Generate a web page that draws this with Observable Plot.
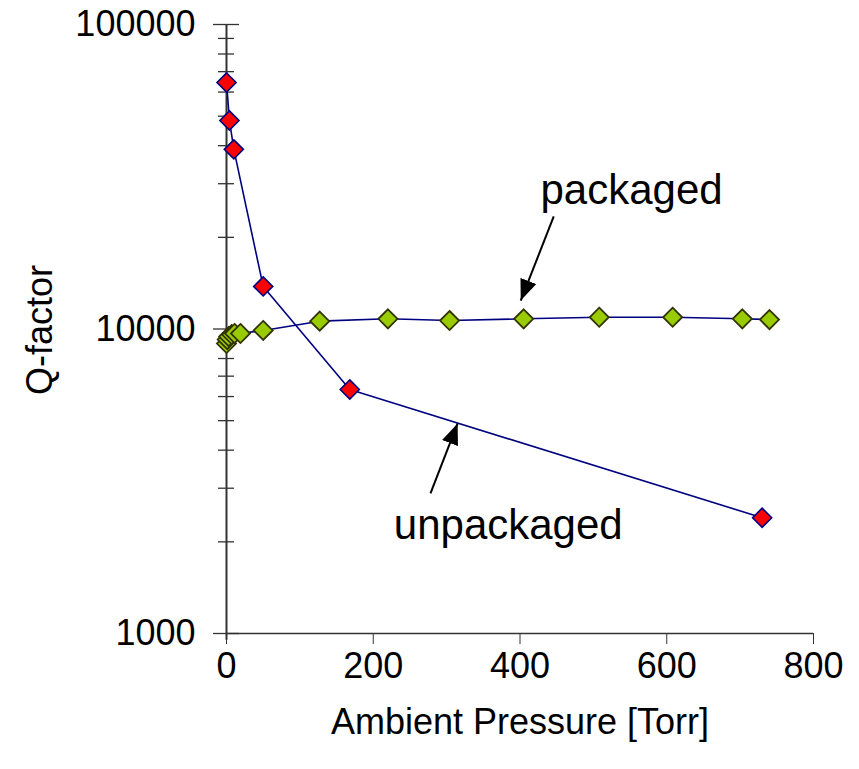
<!DOCTYPE html>
<html>
<head>
<meta charset="utf-8">
<script src="https://cdn.jsdelivr.net/npm/d3@7"></script>
<script src="https://cdn.jsdelivr.net/npm/@observablehq/plot@0.6"></script>
<style>
  html, body { margin: 0; padding: 0; background: #fff; }
  #chart svg { display: block; }
</style>
</head>
<body>
<div id="chart"></div>
<script>
// ---- data ----
const unpackagedPressure = [0.1, 4, 10, 50, 168, 730];
const unpackagedQ        = [64500, 48400, 38900, 13800, 6330, 2400];

const packagedPressure = [0, 1, 3, 7, 11, 19, 50, 127, 220, 304, 405, 508, 608, 703, 740];
const packagedQ        = [8960, 9230, 9440, 9590, 9665, 9665, 9890, 10610, 10800, 10660, 10800, 10930, 10930, 10800, 10740];

const xTicks = [0, 200, 400, 600, 800];
const yMajorTicks = [1000, 10000, 100000];
const yMinorTicks = [2000, 3000, 4000, 5000, 6000, 7000, 8000, 9000,
                     20000, 30000, 40000, 50000, 60000, 70000, 80000, 90000];

const annotationLabels = ["packaged", "unpackaged"];
const annotationTextX  = [552, 384];
const annotationTextY  = [28500, 2263];
const arrowFromX = [446, 278];
const arrowFromY = [23420, 2883];
const arrowToX   = [401, 315];
const arrowToY   = [12400, 4895];

// ---- build tables ----
const unpackaged = unpackagedPressure.map((p, i) => ({p, q: unpackagedQ[i]}));
const packaged = packagedPressure.map((p, i) => ({p, q: packagedQ[i]}));
const annTexts = annotationLabels.map((t, i) => ({t, x: annotationTextX[i], y: annotationTextY[i]}));
const arrows = annotationLabels.map((t, i) => ({x1: arrowFromX[i], y1: arrowFromY[i], x2: arrowToX[i], y2: arrowToY[i]}));

const FONT = "'Liberation Sans', Arial, Helvetica, sans-serif";
const pxPerTorr = (813 - 226) / 800;

const chart = Plot.plot({
  width: 859,
  height: 769,
  marginLeft: 226,
  marginRight: 46,
  marginTop: 24,
  marginBottom: 136,
  style: {fontFamily: FONT, background: "#fff", color: "#000"},
  x: {domain: [0, 800], axis: null},
  y: {type: "log", domain: [1000, 100000], axis: null},
  marks: [
    // y axis tick labels
    Plot.axisY(yMajorTicks, {tickSize: 0, tickPadding: 31, fontSize: 36, tickFormat: d => String(d), label: null}),
    // x axis
    Plot.axisX(xTicks, {tickSize: 11, tickPadding: 8, fontSize: 36, stroke: "#333", label: null, tickFormat: d => String(d)}),
    Plot.ruleY([1000], {x1: 0, x2: 800, stroke: "#333", strokeWidth: 1.5}),
    // y axis line and crossing ticks
    Plot.ruleX([0], {y1: 950, y2: 100000, stroke: "#333", strokeWidth: 2}),
    Plot.ruleY(yMinorTicks, {x1: -8 / pxPerTorr, x2: 8 / pxPerTorr, stroke: "#333", strokeWidth: 1.3}),
    Plot.ruleY(yMajorTicks, {x1: -13 / pxPerTorr, x2: 13 / pxPerTorr, stroke: "#333", strokeWidth: 1.3}),
    // series lines
    Plot.line(packaged, {x: "p", y: "q", stroke: "#000080", strokeWidth: 1.6}),
    Plot.line(unpackaged, {x: "p", y: "q", stroke: "#000080", strokeWidth: 1.6}),
    // markers
    Plot.dot(packaged, {x: "p", y: "q", symbol: "diamond2", r: 8.6, fill: "#99CC00", stroke: "#333300", strokeWidth: 1.8}),
    Plot.dot(unpackaged, {x: "p", y: "q", symbol: "diamond2", r: 8.6, fill: "#FF0000", stroke: "#000080", strokeWidth: 1.6}),
    // annotations
    Plot.link(arrows, {x1: "x1", y1: "y1", x2: "x2", y2: "y2", stroke: "#000", strokeWidth: 2}),
    Plot.text(annTexts, {x: "x", y: "y", text: "t", fontSize: 42, fill: "#000", textAnchor: "middle"}),
    // x axis title
    Plot.text(["Ambient Pressure [Torr]"], {frameAnchor: "bottom", dy: 100, fontSize: 36, fill: "#000", text: d => d}),
  ]
});

// add filled arrowheads to the annotation links
const svg = d3.select(chart);
const defs = svg.insert("defs", ":first-child");
defs.append("marker")
  .attr("id", "ahead")
  .attr("viewBox", "-21 -9 23 18")
  .attr("markerUnits", "userSpaceOnUse")
  .attr("markerWidth", 23)
  .attr("markerHeight", 18)
  .attr("refX", 0).attr("refY", 0)
  .attr("orient", "auto")
  .append("path").attr("d", "M0,0L-21,-8.5L-21,8.5Z").attr("fill", "#000");
svg.selectAll("g[aria-label='link'] path").attr("marker-end", "url(#ahead)");

// y axis title
svg.append("text")
  .attr("transform", "translate(52,330) rotate(-90)")
  .attr("text-anchor", "middle")
  .attr("font-family", FONT)
  .attr("font-size", 36)
  .attr("fill", "#000")
  .text("Q-factor");

document.getElementById("chart").appendChild(chart);
</script>
</body>
</html>
